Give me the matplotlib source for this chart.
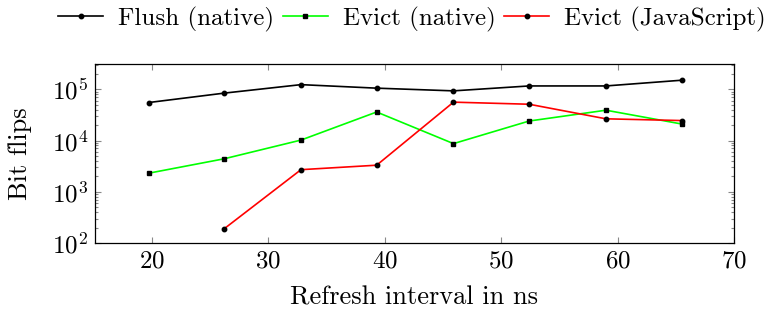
import matplotlib
matplotlib.use("Agg")
import matplotlib.pyplot as plt
from matplotlib.ticker import LogLocator, NullFormatter, FixedLocator

plt.rcParams['font.family'] = 'cmr10'
plt.rcParams['mathtext.fontset'] = 'cm'
plt.rcParams['axes.formatter.use_mathtext'] = True

# refresh interval (ns) and bit flip counts
refresh = [19.7, 26.2, 32.8, 39.3, 45.9, 52.4, 59.0, 65.5]
flush_native = [55000, 84000, 123000, 105000, 93000, 116000, 116000, 150000]
evict_native = [2300, 4400, 10200, 36000, 8700, 24000, 39000, 21000]
refresh_js = [26.2, 32.8, 39.3, 45.9, 52.4, 59.0, 65.5]
evict_js = [190, 2700, 3300, 56000, 51000, 26500, 24500]

xticks = [20, 30, 40, 50, 60, 70]

fig = plt.figure(figsize=(7.69, 3.12), dpi=100)
ax = fig.add_axes([0.1235, 0.221, 0.831, 0.573])

ax.plot(refresh, flush_native, color='black', lw=1.2, marker='o', ms=3.2,
        mfc='black', mec='black', label='Flush (native)')
ax.plot(refresh, evict_native, color='#00ff00', lw=1.2, marker='s', ms=3.2,
        mfc='black', mec='black', label='Evict (native)')
ax.plot(refresh_js, evict_js, color='#ff0000', lw=1.2, marker='o', ms=3.2,
        mfc='black', mec='black', label='Evict (JavaScript)')

ax.set_yscale('log')
ax.set_xlim(15.1, 70)
ax.set_ylim(100, 3.07e5)
ax.xaxis.set_major_locator(FixedLocator(xticks))
ax.yaxis.set_major_locator(LogLocator(base=10, numticks=10))
ax.yaxis.set_minor_locator(LogLocator(base=10, subs=range(2, 10), numticks=20))
ax.yaxis.set_minor_formatter(NullFormatter())

ax.tick_params(which='both', direction='in', top=True, right=True,
               color='#888888', labelsize=18)
ax.tick_params(which='major', length=4, width=0.8, pad=5)
ax.tick_params(which='minor', length=2.2, width=0.8)
for s in ax.spines.values():
    s.set_linewidth(0.9)

ax.set_xlabel('Refresh interval in ns', fontsize=19, labelpad=10)
ax.set_ylabel('Bit flips', fontsize=19, labelpad=14)

fig.legend(loc='center', bbox_to_anchor=(412 / 769, 1 - 19 / 312), ncol=3,
           frameon=False, fontsize=18, handlelength=1.8, handletextpad=0.6,
           columnspacing=0.35, borderaxespad=0)

fig.savefig('out.png', dpi=100)
